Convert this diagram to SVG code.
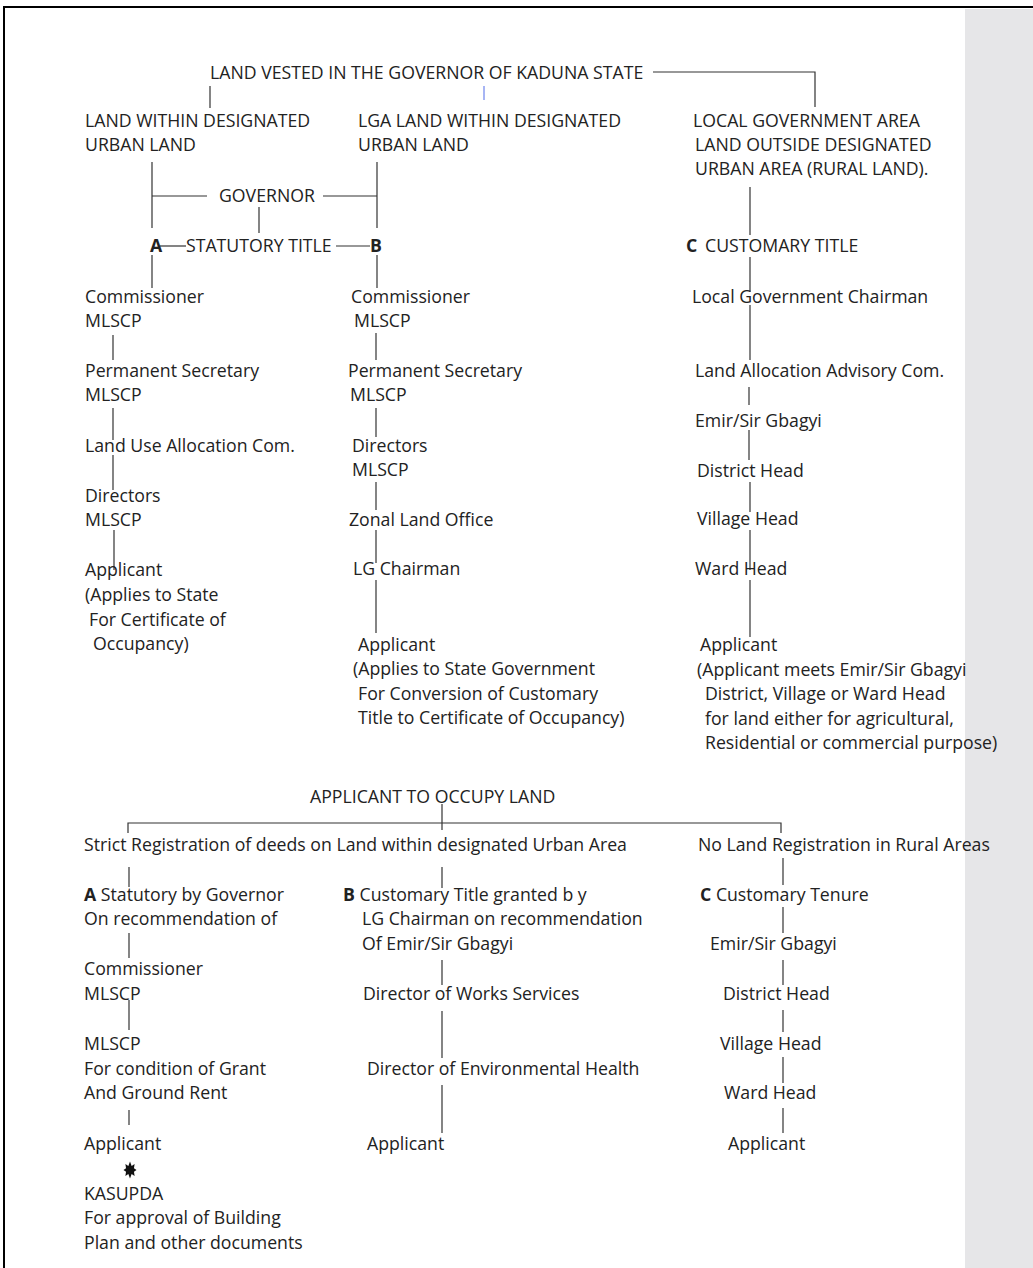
<svg xmlns="http://www.w3.org/2000/svg" width="1033" height="1268" viewBox="0 0 1033 1268">
<style>
text{font-family:"Open Sans","Noto Sans","Liberation Sans",sans-serif;font-size:17.7px;fill:#222}
.b{font-weight:bold}
.c line,.c path{stroke:#333;stroke-width:1.2;fill:none}
</style>
<rect x="0" y="0" width="1033" height="1268" fill="#fff"/>
<rect x="965" y="9" width="68" height="1259" fill="#e6e6e8"/>
<line x1="3" y1="7" x2="1033" y2="7" stroke="#000" stroke-width="2"/>
<line x1="4" y1="7" x2="4" y2="1268" stroke="#000" stroke-width="2"/>
<line x1="484" y1="86" x2="484" y2="100" stroke="#8a9cf0" stroke-width="1.5"/>
<g class="c" id="connectors">
<path d="M653 72H815V107"/>
<line x1="210" y1="86" x2="210" y2="108"/>
<line x1="152" y1="162" x2="152" y2="228"/>
<line x1="377" y1="162" x2="377" y2="228"/>
<line x1="152" y1="196" x2="207" y2="196"/>
<line x1="323" y1="196" x2="377" y2="196"/>
<line x1="259" y1="207" x2="259" y2="233"/>
<line x1="160" y1="246" x2="186" y2="246"/>
<line x1="336" y1="246" x2="370" y2="246"/>
<line x1="152" y1="255" x2="152" y2="288"/>
<line x1="377" y1="255" x2="377" y2="288"/>
<line x1="750" y1="187" x2="750" y2="235"/>
<line x1="750" y1="257" x2="750" y2="292"/>
<line x1="113" y1="335" x2="113" y2="360"/>
<line x1="113" y1="408" x2="113" y2="440"/>
<line x1="113" y1="455" x2="113" y2="490"/>
<line x1="114" y1="530" x2="114" y2="570"/>
<line x1="376" y1="333" x2="376" y2="360"/>
<line x1="376" y1="408" x2="376" y2="437"/>
<line x1="376" y1="482" x2="376" y2="510"/>
<line x1="376" y1="530" x2="376" y2="563"/>
<line x1="376" y1="580" x2="376" y2="633"/>
<line x1="750" y1="305" x2="750" y2="360"/>
<line x1="749" y1="387" x2="749" y2="405"/>
<line x1="749" y1="430" x2="749" y2="460"/>
<line x1="750" y1="482" x2="750" y2="512"/>
<line x1="750" y1="530" x2="750" y2="570"/>
<line x1="750" y1="580" x2="750" y2="637"/>
<line x1="442" y1="804" x2="442" y2="830"/>
<path d="M128 833V823H781V833"/>
<line x1="129" y1="867" x2="129" y2="887"/>
<line x1="442" y1="867" x2="442" y2="888"/>
<line x1="783" y1="858" x2="783" y2="885"/>
<line x1="129" y1="933" x2="129" y2="958"/>
<line x1="129" y1="1000" x2="129" y2="1030"/>
<line x1="129" y1="1110" x2="129" y2="1125"/>
<line x1="442" y1="960" x2="442" y2="985"/>
<line x1="442" y1="1011" x2="442" y2="1058"/>
<line x1="442" y1="1085" x2="442" y2="1133"/>
<line x1="783" y1="907" x2="783" y2="933"/>
<line x1="783" y1="960" x2="783" y2="985"/>
<line x1="783" y1="1010" x2="783" y2="1032"/>
<line x1="783" y1="1057" x2="783" y2="1083"/>
<line x1="783" y1="1108" x2="783" y2="1133"/>
</g>
<g id="n-top"><text x="210" y="79">LAND VESTED IN THE GOVERNOR OF KADUNA STATE</text></g>
<g id="n-urban"><text x="85" y="127">LAND WITHIN DESIGNATED</text><text x="85" y="151">URBAN LAND</text></g>
<g id="n-lga"><text x="358" y="127">LGA LAND WITHIN DESIGNATED</text><text x="358" y="151">URBAN LAND</text></g>
<g id="n-rural"><text x="693" y="127">LOCAL GOVERNMENT AREA</text><text x="695" y="151">LAND OUTSIDE DESIGNATED</text><text x="695" y="175">URBAN AREA (RURAL LAND).</text></g>
<g id="n-governor"><text x="219" y="202">GOVERNOR</text></g>
<g id="n-a"><text x="150" y="252" class="b">A</text></g>
<g id="n-statutory"><text x="186" y="252">STATUTORY TITLE</text></g>
<g id="n-b"><text x="370" y="252" class="b">B</text></g>
<g id="n-c"><text x="686" y="252"><tspan class="b">C</tspan><tspan x="705">CUSTOMARY TITLE</tspan></text></g>
<g id="n-a1"><text x="85" y="303">Commissioner</text><text x="85" y="327">MLSCP</text></g>
<g id="n-a2"><text x="85" y="377">Permanent Secretary</text><text x="85" y="401">MLSCP</text></g>
<g id="n-a3"><text x="85" y="452">Land Use Allocation Com.</text></g>
<g id="n-a4"><text x="85" y="502">Directors</text><text x="85" y="526">MLSCP</text></g>
<g id="n-a5"><text x="85" y="576">Applicant</text><text x="85" y="601">(Applies to State</text><text x="89" y="626">For Certificate of</text><text x="93" y="650">Occupancy)</text></g>
<g id="n-b1"><text x="351" y="303">Commissioner</text><text x="354" y="327">MLSCP</text></g>
<g id="n-b2"><text x="348" y="377">Permanent Secretary</text><text x="350" y="401">MLSCP</text></g>
<g id="n-b3"><text x="352" y="452">Directors</text><text x="352" y="476">MLSCP</text></g>
<g id="n-b4"><text x="349" y="526">Zonal Land Office</text></g>
<g id="n-b5"><text x="353" y="575">LG Chairman</text></g>
<g id="n-b6"><text x="358" y="651">Applicant</text><text x="353" y="675">(Applies to State Government</text><text x="358" y="700">For Conversion of Customary</text><text x="358" y="724">Title to Certificate of Occupancy)</text></g>
<g id="n-c1"><text x="692" y="303">Local Government Chairman</text></g>
<g id="n-c2"><text x="695" y="377">Land Allocation Advisory Com.</text></g>
<g id="n-c3"><text x="695" y="427">Emir/Sir Gbagyi</text></g>
<g id="n-c4"><text x="697" y="477">District Head</text></g>
<g id="n-c5"><text x="697" y="525">Village Head</text></g>
<g id="n-c6"><text x="695" y="575">Ward Head</text></g>
<g id="n-c7"><text x="700" y="651">Applicant</text><text x="697" y="676">(Applicant meets Emir/Sir Gbagyi</text><text x="705" y="700">District, Village or Ward Head</text><text x="705" y="725">for land either for agricultural,</text><text x="705" y="749">Residential or commercial purpose)</text></g>
<g id="n-occupy"><text x="310" y="803">APPLICANT TO OCCUPY LAND</text></g>
<g id="n-strict"><text x="84" y="851">Strict Registration of deeds on Land within designated Urban Area</text></g>
<g id="n-norural"><text x="698" y="851">No Land Registration in Rural Areas</text></g>
<g id="n-sa"><text x="84" y="901"><tspan class="b">A</tspan> Statutory by Governor</text><text x="84" y="925">On recommendation of</text></g>
<g id="n-sa1"><text x="84" y="975">Commissioner</text><text x="84" y="1000">MLSCP</text></g>
<g id="n-sa2"><text x="84" y="1050">MLSCP</text><text x="84" y="1075">For condition of Grant</text><text x="84" y="1099">And Ground Rent</text></g>
<g id="n-sa3"><text x="84" y="1150">Applicant</text></g>
<g id="n-star"><polygon fill="#111" points="130,1161.5 131.65,1166.03 134.6,1164 133.97,1168.35 136.5,1170 133.97,1171.65 134.6,1176 131.65,1173.97 130,1178.5 128.35,1173.97 125.4,1176 126.03,1171.65 123.5,1170 126.03,1168.35 125.4,1164 128.35,1166.03"/></g>
<g id="n-sa4"><text x="84" y="1200">KASUPDA</text><text x="84" y="1224">For approval of Building</text><text x="84" y="1249">Plan and other documents</text></g>
<g id="n-sb"><text x="343" y="901"><tspan class="b">B</tspan> Customary Title granted b y</text><text x="362" y="925">LG Chairman on recommendation</text><text x="362" y="950">Of Emir/Sir Gbagyi</text></g>
<g id="n-sb1"><text x="363" y="1000">Director of Works Services</text></g>
<g id="n-sb2"><text x="367" y="1075">Director of Environmental Health</text></g>
<g id="n-sb3"><text x="367" y="1150">Applicant</text></g>
<g id="n-sc"><text x="700" y="901"><tspan class="b">C</tspan> Customary Tenure</text></g>
<g id="n-sc1"><text x="710" y="950">Emir/Sir Gbagyi</text></g>
<g id="n-sc2"><text x="723" y="1000">District Head</text></g>
<g id="n-sc3"><text x="720" y="1050">Village Head</text></g>
<g id="n-sc4"><text x="724" y="1099">Ward Head</text></g>
<g id="n-sc5"><text x="728" y="1150">Applicant</text></g>
</svg>
